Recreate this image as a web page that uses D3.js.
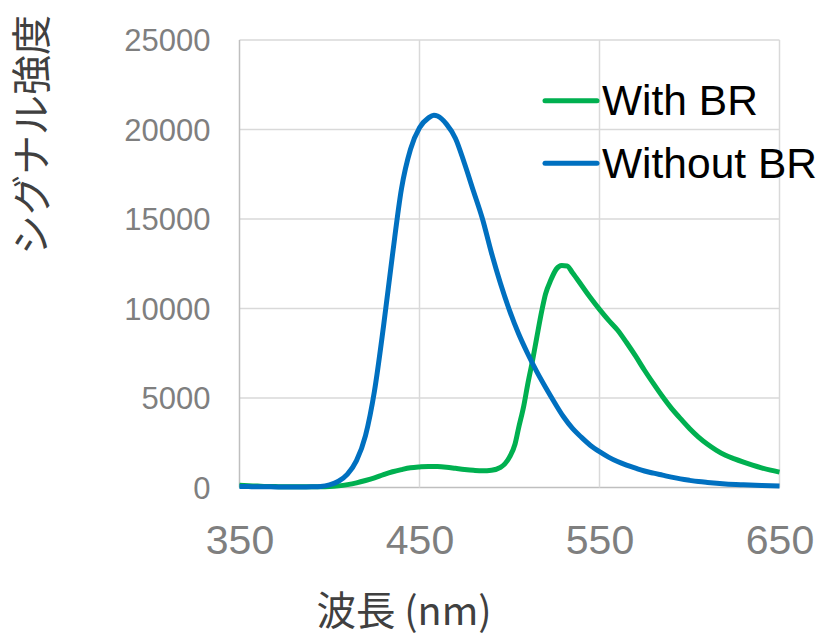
<!DOCTYPE html>
<html>
<head>
<meta charset="utf-8">
<script src="https://cdn.jsdelivr.net/npm/d3@7"></script>
<style>
  html, body { margin: 0; padding: 0; background: #fff; }
  svg { display: block; }
</style>
</head>
<body>
<svg id="chart" width="821" height="636"></svg>
<script>
// Emission spectra: wavelength (nm) vs. signal intensity
const wavelengthsWithBR = [350,355,360,365,370,375,380,385,390,395,400,405,410,415,420,425,430,435,440,445,450,455,460,465,470,475,480,485,490,495,500,503,505,508,510,513,515,518,520,523,526,529,532,535,540,545,550,555,560,565,570,575,580,585,590,595,600,605,610,615,620,625,630,635,640,645,650];
const intensityWithBR = [120,100,80,60,50,40,40,40,40,40,50,90,160,260,390,540,720,880,1000,1100,1150,1180,1170,1130,1070,1010,960,930,960,1120,1700,2400,3300,4600,5700,7200,8300,9900,10800,11600,12200,12400,12380,12000,11300,10600,9950,9350,8800,8100,7350,6550,5800,5080,4420,3850,3300,2820,2420,2080,1800,1600,1420,1250,1100,970,860];

const wavelengthsWithoutBR = [350,355,360,365,370,375,380,385,390,395,400,405,410,415,420,425,430,435,440,445,450,455,458,460,465,470,475,480,485,490,495,500,505,510,515,520,525,530,535,540,545,550,555,560,565,570,575,580,585,590,595,600,605,610,620,630,640,650];
const intensityWithoutBR = [60,50,40,40,30,30,30,30,40,60,150,350,750,1500,2900,5400,9000,13000,16700,18900,20100,20650,20800,20750,20300,19500,18100,16550,15000,13100,11400,9900,8600,7500,6500,5600,4750,3950,3300,2800,2350,2000,1700,1450,1250,1080,920,800,690,580,480,400,330,280,200,150,110,80];

const xTicks = [350,450,550,650];
const yTicks = [0,5000,10000,15000,20000,25000];
const seriesNames = ["With BR", "Without BR"];
const seriesColors = ["#00b050", "#0070c0"];
const xTitle = "波長 (nm)";
const yTitle = "シグナル強度";

const svg = d3.select("#chart");
const plot = { left: 239.5, right: 779.5, top: 40, bottom: 487.5 };

const x = d3.scaleLinear().domain([350, 650]).range([plot.left, plot.right]);
const y = d3.scaleLinear().domain([0, 25000]).range([plot.bottom, plot.top]);

// gridlines
const grid = svg.append("g");
grid.selectAll("line.h").data(yTicks).join("line").attr("class", "h")
  .attr("x1", plot.left).attr("x2", plot.right)
  .attr("y1", d => y(d)).attr("y2", d => y(d))
  .attr("stroke", d => d === 0 ? "#bfbfbf" : "#d9d9d9").attr("stroke-width", 1.5);
grid.selectAll("line.v").data(xTicks).join("line").attr("class", "v")
  .attr("x1", d => x(d)).attr("x2", d => x(d))
  .attr("y1", plot.top).attr("y2", plot.bottom)
  .attr("stroke", d => d === 350 ? "#bfbfbf" : "#d9d9d9").attr("stroke-width", 1.5);

// axes (labels only)
const yAxis = svg.append("g").attr("transform", `translate(${plot.left - 29},0)`)
  .call(d3.axisLeft(y).tickValues(yTicks).tickSize(0).tickPadding(0).tickFormat(d3.format("d")));
yAxis.select(".domain").remove();
yAxis.selectAll("text").attr("fill", "#7f7f7f").attr("font-size", 31)
  .attr("font-family", "'Liberation Sans', Arial, sans-serif").attr("dy", "0.35em");

const xAxis = svg.append("g").attr("transform", `translate(0,${plot.bottom})`)
  .call(d3.axisBottom(x).tickValues(xTicks).tickSize(0).tickPadding(0).tickFormat(d3.format("d")));
xAxis.select(".domain").remove();
xAxis.selectAll("text").attr("fill", "#7f7f7f").attr("font-size", 41)
  .attr("font-family", "'Liberation Sans', Arial, sans-serif").attr("dy", null).attr("y", 66);

// series
const line = d3.line().x(d => x(d[0])).y(d => y(d[1])).curve(d3.curveMonotoneX);
const series = [
  d3.zip(wavelengthsWithBR, intensityWithBR),
  d3.zip(wavelengthsWithoutBR, intensityWithoutBR)
];
svg.append("g").selectAll("path").data(series).join("path")
  .attr("d", line)
  .attr("fill", "none")
  .attr("stroke", (d, i) => seriesColors[i])
  .attr("stroke-width", 5)
  .attr("stroke-linejoin", "round");

// legend
const legend = svg.append("g");
const legendY = [100.7, 163.3];
seriesNames.forEach((name, i) => {
  legend.append("line")
    .attr("x1", 545).attr("x2", 597)
    .attr("y1", legendY[i]).attr("y2", legendY[i])
    .attr("stroke", seriesColors[i]).attr("stroke-width", 5).attr("stroke-linecap", "round");
  legend.append("text")
    .attr("x", 602).attr("y", legendY[i] + 14.5)
    .attr("font-family", "'Liberation Sans', Arial, sans-serif")
    .attr("font-size", 42.5).attr("fill", "#000")
    .text(name);
});

// axis titles
svg.append("text")
  .attr("x", 404).attr("y", 625)
  .attr("text-anchor", "middle")
  .attr("font-family", "'Noto Sans CJK JP', sans-serif")
  .attr("font-size", 39.5).attr("fill", "#404040")
  .text(xTitle);

svg.append("text")
  .attr("transform", "translate(46,135) rotate(-90)")
  .attr("text-anchor", "middle")
  .attr("font-family", "'Noto Sans CJK JP', sans-serif")
  .attr("font-size", 40).attr("fill", "#404040")
  .text(yTitle);
</script>
</body>
</html>
